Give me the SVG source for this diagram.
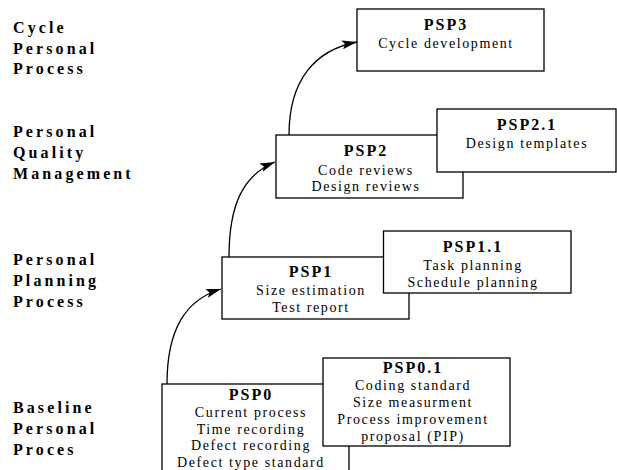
<svg xmlns="http://www.w3.org/2000/svg" width="617" height="470" viewBox="0 0 617 470">
<defs>
<style>
.box{fill:#fff;stroke:#000;stroke-width:1.3}
.lbl{font-family:"Liberation Serif","Times New Roman",serif;font-weight:bold;font-size:16px;letter-spacing:3.1px;fill:#000}
.t{font-family:"Liberation Serif","Times New Roman",serif;font-weight:bold;font-size:16px;letter-spacing:2px;text-anchor:middle;fill:#000}
.b{font-family:"Liberation Serif","Times New Roman",serif;font-size:14px;letter-spacing:1.6px;text-anchor:middle;fill:#000}
.conn{fill:none;stroke:#000;stroke-width:1.3}
</style>
<marker id="ah" markerUnits="userSpaceOnUse" markerWidth="16" markerHeight="10" refX="15" refY="4.5" orient="auto">
<path d="M0,0 L15,4.5 L0,9 L3,4.5 Z" fill="#000"/>
</marker>
</defs>
<rect width="617" height="470" fill="#fff"/>
<g id="labels">
<text class="lbl" x="13" y="33">Cycle</text>
<text class="lbl" x="13" y="53.5">Personal</text>
<text class="lbl" x="13" y="74">Process</text>
<text class="lbl" x="13" y="137">Personal</text>
<text class="lbl" x="13" y="158">Quality</text>
<text class="lbl" x="13" y="179">Management</text>
<text class="lbl" x="13" y="265">Personal</text>
<text class="lbl" x="13" y="286">Planning</text>
<text class="lbl" x="13" y="306.5">Process</text>
<text class="lbl" x="13" y="413">Baseline</text>
<text class="lbl" x="13" y="434">Personal</text>
<text class="lbl" x="13" y="455">Proces</text>
</g>
<g id="connectors">
<path class="conn" d="M167,384 C167,330 185,300 221,289" marker-end="url(#ah)"/>
<path class="conn" d="M229,257 C229,205 243,175 275,162" marker-end="url(#ah)"/>
<path class="conn" d="M289,135 C289,80 315,50 357,42" marker-end="url(#ah)"/>
</g>
<g id="psp0">
<rect class="box" x="162" y="384" width="187" height="100"/>
<text class="t" x="251" y="400">PSP0</text>
<text class="b" x="251" y="417">Current process</text>
<text class="b" x="251" y="433.5">Time recording</text>
<text class="b" x="251" y="450">Defect recording</text>
<text class="b" x="251" y="466.5">Defect type standard</text>
</g>
<g id="psp01">
<rect class="box" x="323" y="358" width="187" height="88"/>
<text class="t" x="413" y="373">PSP0.1</text>
<text class="b" x="413" y="390">Coding standard</text>
<text class="b" x="413" y="407">Size measurment</text>
<text class="b" x="413" y="424">Process improvement</text>
<text class="b" x="413" y="441">proposal (PIP)</text>
</g>
<g id="psp1">
<rect class="box" x="222" y="257" width="187" height="62"/>
<text class="t" x="311" y="277">PSP1</text>
<text class="b" x="311" y="295">Size estimation</text>
<text class="b" x="311" y="312">Test report</text>
</g>
<g id="psp11">
<rect class="box" x="383.5" y="231" width="187.5" height="62"/>
<text class="t" x="473" y="252">PSP1.1</text>
<text class="b" x="473" y="270">Task planning</text>
<text class="b" x="473" y="287">Schedule planning</text>
</g>
<g id="psp2">
<rect class="box" x="276" y="135" width="187" height="63"/>
<text class="t" x="366" y="156">PSP2</text>
<text class="b" x="366" y="175">Code reviews</text>
<text class="b" x="366" y="191">Design reviews</text>
</g>
<g id="psp21">
<rect class="box" x="437" y="109" width="179" height="63"/>
<text class="t" x="527" y="130">PSP2.1</text>
<text class="b" x="527" y="148">Design templates</text>
</g>
<g id="psp3">
<rect class="box" x="357" y="9" width="187" height="62"/>
<text class="t" x="446" y="30">PSP3</text>
<text class="b" x="446" y="48">Cycle development</text>
</g>
</svg>
